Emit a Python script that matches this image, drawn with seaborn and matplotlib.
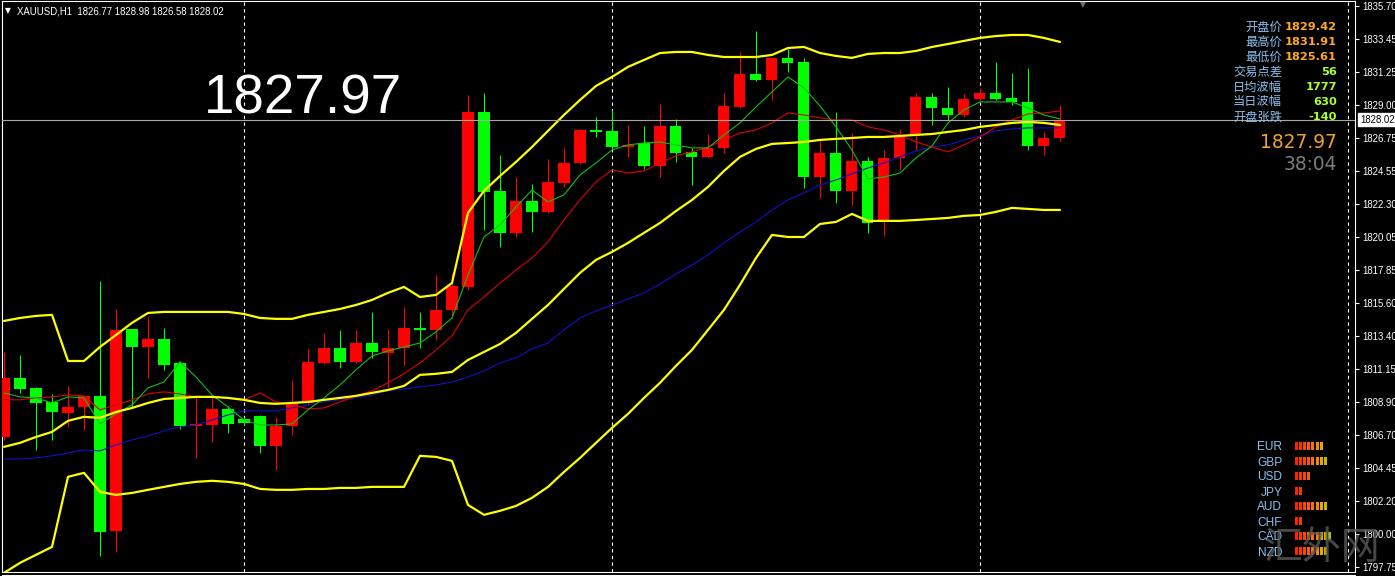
import numpy as np
import pandas as pd
import matplotlib
matplotlib.use("Agg")
import matplotlib.pyplot as plt
import matplotlib.transforms as mtransforms
import seaborn as sns

# XAUUSD H1 candles
opens = [1806.54, 1810.54, 1809.86, 1808.90, 1808.16, 1808.57, 1809.32, 1800.18, 1813.85, 1812.63,
         1813.17, 1811.55, 1807.28, 1807.35, 1808.43, 1807.75, 1807.96, 1805.94, 1807.28, 1808.84,
         1811.55, 1812.56, 1811.62, 1812.90, 1812.22, 1812.56, 1813.92, 1813.78, 1815.13, 1816.68,
         1828.53, 1823.19, 1820.34, 1822.50, 1821.76, 1823.72, 1825.08, 1827.31, 1827.24, 1826.16,
         1826.43, 1824.88, 1827.58, 1825.82, 1825.48, 1826.09, 1828.86, 1831.10, 1830.69, 1832.18,
         1831.91, 1824.13, 1825.75, 1823.18, 1825.21, 1821.09, 1825.41, 1826.90, 1829.54, 1828.80,
         1828.33, 1829.42, 1829.81, 1829.47, 1829.20, 1826.23, 1826.77]
highs = [1812.29, 1812.09, 1809.90, 1809.45, 1809.99, 1809.38, 1817.09, 1815.20, 1813.85, 1814.66,
         1813.92, 1811.69, 1809.38, 1809.18, 1808.63, 1807.89, 1808.00, 1807.89, 1810.40, 1812.50,
         1813.58, 1813.78, 1813.78, 1815.00, 1813.85, 1815.33, 1815.00, 1817.50, 1817.64, 1829.68,
         1829.81, 1825.62, 1824.13, 1823.66, 1825.35, 1826.09, 1827.35, 1828.19, 1828.66, 1827.65,
         1827.58, 1829.07, 1828.05, 1826.09, 1827.04, 1829.81, 1832.58, 1834.01, 1832.25, 1832.79,
         1832.18, 1826.63, 1828.53, 1827.11, 1825.48, 1825.96, 1827.38, 1829.81, 1829.81, 1830.22,
         1829.75, 1830.15, 1831.91, 1831.17, 1831.50, 1827.17, 1828.98]
lows = [1806.33, 1809.52, 1805.66, 1806.33, 1807.21, 1807.01, 1798.48, 1798.75, 1808.57, 1810.54,
        1811.08, 1807.08, 1805.12, 1806.19, 1806.80, 1807.35, 1805.46, 1804.31, 1806.67, 1808.70,
        1811.50, 1811.21, 1811.55, 1811.89, 1809.86, 1811.42, 1812.56, 1813.10, 1814.60, 1816.48,
        1820.54, 1819.39, 1820.07, 1820.41, 1821.69, 1823.45, 1825.00, 1826.83, 1826.00, 1825.48,
        1824.67, 1824.13, 1825.15, 1823.59, 1825.41, 1825.75, 1828.80, 1830.60, 1829.34, 1831.23,
        1823.38, 1822.71, 1822.37, 1822.23, 1820.34, 1820.14, 1824.60, 1825.96, 1827.65, 1827.99,
        1828.19, 1829.30, 1829.34, 1829.00, 1825.96, 1825.61, 1826.58]
closes = [1810.54, 1809.79, 1808.84, 1808.23, 1808.57, 1809.32, 1800.11, 1813.78, 1812.63, 1813.17,
          1811.42, 1807.28, 1807.42, 1808.43, 1807.42, 1807.49, 1805.94, 1807.28, 1808.84, 1811.62,
          1812.56, 1811.62, 1812.90, 1812.29, 1812.56, 1813.92, 1813.78, 1815.13, 1816.75, 1828.53,
          1823.12, 1820.34, 1822.50, 1821.76, 1823.79, 1825.08, 1827.31, 1827.17, 1826.16, 1826.30,
          1824.88, 1827.58, 1825.75, 1825.48, 1826.09, 1828.93, 1831.10, 1830.69, 1832.18, 1831.84,
          1824.13, 1825.75, 1823.18, 1825.21, 1821.02, 1825.41, 1826.90, 1829.54, 1828.80, 1828.33,
          1829.41, 1829.81, 1829.41, 1829.20, 1826.23, 1826.77, 1828.02]

# Bollinger bands (yellow)
bb_upper = [1814.39, 1814.59, 1814.73, 1814.80, 1811.68, 1811.68, 1812.63, 1813.44, 1814.26, 1814.93,
            1815.00, 1815.00, 1815.00, 1815.00, 1815.00, 1814.86, 1814.59, 1814.53,
            1814.53, 1814.80, 1815.00, 1815.20, 1815.47, 1815.81, 1816.29, 1816.69, 1816.01, 1816.15, 1816.96,
            1821.70, 1823.19, 1824.20, 1825.15, 1826.16, 1827.25, 1828.33, 1829.34, 1830.29, 1830.90,
            1831.58, 1832.05, 1832.52, 1832.59,
            1832.59, 1832.39, 1832.25, 1832.25, 1832.25, 1832.39, 1832.86, 1832.93, 1832.52, 1832.32,
            1832.19, 1832.46, 1832.52, 1832.52, 1832.66, 1832.93, 1833.13, 1833.34, 1833.54, 1833.67,
            1833.74, 1833.74, 1833.54, 1833.27]
bb_mid = [1805.87, 1806.14, 1806.54, 1806.88, 1807.63, 1807.90, 1807.83, 1808.23, 1808.50, 1808.84,
          1809.11, 1809.18, 1809.25, 1809.25, 1809.18, 1809.05, 1808.84, 1808.78,
          1808.84, 1808.91, 1809.05, 1809.18, 1809.32, 1809.52, 1809.72, 1809.99, 1810.74, 1810.81,
          1810.94, 1811.75, 1812.29, 1812.83, 1813.58, 1814.53, 1815.47, 1816.56, 1817.64, 1818.52,
          1819.06, 1819.67, 1820.35, 1821.02, 1821.83, 1822.58, 1823.46, 1824.54, 1825.49, 1826.03,
          1826.37, 1826.43, 1826.50, 1826.64, 1826.71, 1826.77, 1826.84, 1826.84, 1826.91, 1826.98,
          1827.04, 1827.18, 1827.31, 1827.52, 1827.65, 1827.79, 1827.86, 1827.79, 1827.65]
bb_lower = [1797.34, 1798.02, 1798.56, 1799.10, 1803.84, 1804.11, 1802.82, 1802.62, 1802.75, 1802.96,
            1803.16, 1803.36, 1803.50, 1803.57, 1803.50, 1803.36, 1803.02, 1802.96,
            1802.96, 1803.02, 1803.02, 1803.09, 1803.09, 1803.16, 1803.16, 1803.16, 1805.26, 1805.19,
            1804.92, 1801.94, 1801.27, 1801.54, 1801.87, 1802.42,
            1803.16, 1804.17, 1805.12, 1806.14, 1807.15, 1808.10, 1809.18, 1810.20, 1811.35, 1812.43,
            1813.78, 1815.14, 1816.83, 1818.65, 1820.21, 1820.07, 1820.07, 1820.95, 1821.09, 1821.63,
            1821.16, 1821.16, 1821.16, 1821.22, 1821.29, 1821.36, 1821.50, 1821.56, 1821.77, 1822.04,
            1821.97, 1821.90, 1821.90]

# moving averages: fast (green), medium (red), slow (blue)
ma_fast = [1809.52, 1809.25, 1809.18, 1808.84, 1809.25, 1809.18, 1807.42, 1808.10, 1808.71, 1809.86,
           1810.26, 1811.62, 1810.60, 1809.38, 1808.57, 1807.69, 1807.35, 1807.35, 1807.42,
           1808.37, 1809.18, 1810.06, 1811.08, 1812.02, 1812.36, 1812.63, 1812.90, 1813.65, 1814.59,
           1817.50, 1820.07, 1820.89, 1822.10, 1823.25, 1822.44, 1822.92, 1824.27, 1825.08, 1825.96,
           1826.30, 1826.43, 1826.50, 1826.30, 1826.10,
           1826.10, 1826.98, 1827.79, 1828.87, 1829.89, 1830.90,
           1830.16, 1828.94, 1827.52, 1825.96, 1824.00, 1824.13, 1824.40, 1825.42, 1826.23, 1827.79,
           1828.67, 1829.21, 1829.21, 1829.21, 1828.80, 1828.33, 1828.06]
ma_mid = [1809.05, 1809.05, 1809.18, 1809.25, 1809.38, 1809.32, 1808.37, 1808.71, 1809.05, 1809.45,
          1809.59, 1809.45, 1809.25, 1809.25, 1809.18, 1809.05, 1809.52, 1808.91,
          1808.71, 1808.44, 1808.50, 1808.91, 1809.32, 1809.66, 1810.20, 1810.81, 1811.55, 1812.43,
          1813.38, 1815.14, 1816.01, 1816.96, 1817.84, 1818.65, 1819.74, 1821.22, 1822.58, 1823.80,
          1824.61, 1824.40, 1824.54, 1825.08, 1825.56, 1825.83, 1826.16, 1826.64, 1827.11, 1827.31,
          1827.79, 1828.46,
          1828.33, 1828.13, 1827.99, 1827.99, 1827.52, 1827.31, 1826.98, 1826.50, 1826.16, 1825.83,
          1826.30, 1826.84, 1827.52, 1827.99, 1828.40, 1828.46, 1828.60]
ma_slow = [1805.05, 1805.05, 1805.12, 1805.26, 1805.46, 1805.66, 1805.60, 1806.00, 1806.34, 1806.61,
           1806.95, 1807.22, 1807.35, 1807.69, 1808.03, 1808.30, 1808.30, 1808.30,
           1808.50, 1808.71, 1808.91, 1809.05, 1809.18, 1809.38, 1809.66, 1809.79, 1809.93, 1810.06,
           1810.26, 1810.60, 1811.01, 1811.55, 1811.89, 1812.50, 1812.90, 1813.78, 1814.59, 1815.07,
           1815.47, 1815.88, 1816.29, 1816.89, 1817.57, 1818.18, 1818.86, 1819.67, 1820.41, 1821.09,
           1821.90, 1822.58, 1823.05, 1823.59, 1823.93, 1824.34, 1824.74, 1825.08, 1825.49, 1825.89,
           1826.16, 1826.30, 1826.64, 1826.91, 1827.25, 1827.38, 1827.45, 1827.45, 1827.45]

price_ticks = [1835.70, 1833.45, 1831.25, 1829.00, 1826.75, 1824.55, 1822.30, 1820.05, 1817.85,
               1815.60, 1813.40, 1811.15, 1808.90, 1806.70, 1804.45, 1802.20, 1800.00, 1797.75]
day_breaks = [15, 38, 61, 84]
last_price = 1828.02
bid_text = "1827.97"
timer_text = "38:04"
header = "XAUUSD,H1  1826.77 1828.98 1826.58 1828.02"

info_labels = ["开盘价", "最高价", "最低价", "交易点差", "日均波幅", "当日波幅", "开盘张跌"]
info_values = ["1829.42", "1831.91", "1825.61", "56", "1777", "630", "-140"]
info_colors = ["#ffa824", "#ffa824", "#ffa824", "#adff2f", "#adff2f", "#adff2f", "#adff2f"]

currencies = ["EUR", "GBP", "USD", "JPY", "AUD", "CHF", "CAD", "NZD"]
strength = [7, 8, 4, 2, 8, 2, 9, 8]
seg_colors = ["#ff2200", "#ff3300", "#ff4400", "#ff5a00", "#ff7000", "#f58a00",
              "#e8a800", "#c8b800", "#a8c020", "#90b030"]

W, H = 1395, 576

sns.set_theme(style="dark", rc={"axes.facecolor": "black", "figure.facecolor": "black",
                                "savefig.facecolor": "black"})
plt.rcParams["font.family"] = ["Liberation Sans", "DejaVu Sans"]

fig = plt.figure(figsize=(W / 100, H / 100), dpi=100)
ax = fig.add_axes([2 / W, 4 / H, 1353 / W, 571 / H])
ax.set_facecolor("black")

df = pd.DataFrame({"open": opens, "high": highs, "low": lows, "close": closes})
df["bar"] = np.arange(len(df))
up = df["close"] >= df["open"]
colors = np.where(up, "#ff0000", "#00ff00")

# day separators
for d in day_breaks:
    ax.axvline(d, color="white", lw=0.8, ls=(0, (3, 3)), zorder=1)

# candles
ax.vlines(df["bar"], df["low"], df["high"], colors=colors, lw=0.8, zorder=2)
body_lo = df[["open", "close"]].min(axis=1)
body_h = (df["close"] - df["open"]).abs().clip(lower=0.08)
ax.bar(df["bar"], body_h, bottom=body_lo, width=0.69, color=colors, linewidth=0, zorder=3)

ind = pd.DataFrame({"bar": df["bar"], "upper": bb_upper, "mid": bb_mid, "lower": bb_lower,
                    "fast": ma_fast, "medium": ma_mid, "slow": ma_slow})
for col, c, lw, z in [("slow", "#1010c8", 0.8, 4), ("medium", "#e00000", 0.8, 4),
                      ("fast", "#10c010", 0.8, 4), ("upper", "#ffff00", 1.6, 5),
                      ("mid", "#ffff00", 1.6, 5), ("lower", "#ffff00", 1.6, 5)]:
    sns.lineplot(data=ind, x="bar", y=col, color=c, lw=lw, ax=ax, zorder=z)

ax.axhline(last_price, color="#a8a8a8", lw=0.8, zorder=6)

ax.set_xlim(-0.125, 84.44)
ax.set_ylim(1797.40, 1836.04)
ax.set_xlabel("")
ax.set_ylabel("")
ax.set_xticks([])
ax.yaxis.tick_right()
ax.set_yticks(price_ticks)
ax.set_yticklabels([f"{p:.2f}" for p in price_ticks])
ax.tick_params(axis="y", colors="white", labelsize=6.9, length=3, width=0.8, pad=2,
               direction="out", right=True, left=False)
ax.grid(False)
for s in ax.spines.values():
    s.set_color("white")
    s.set_linewidth(0.8)
    s.set_visible(True)

# current price box on the axis
tr = mtransforms.blended_transform_factory(ax.transAxes, ax.transData)
ax.text(1.0 + 5 / 1353, last_price, f"{last_price:.2f}", transform=tr, ha="left", va="center",
        fontsize=6.9, color="black", clip_on=False, zorder=10,
        bbox=dict(boxstyle="square,pad=0.2", fc="white", ec="white"))
fig.add_artist(plt.Line2D([2 / W, 1355 / W], [1 - 575 / H, 1 - 575 / H], color="white", lw=0.8))

# header
fig.text(5 / W, 1 - 11 / H, "▼", color="white", fontsize=5.5, va="center",
         family="DejaVu Sans")
fig.text(17 / W, 1 - 11 / H, header, color="white", fontsize=6.9, va="center")
fig.text(1083 / W, 1 - 5 / H, "▼", color="#707070", fontsize=5.5, ha="center", va="center",
         family="DejaVu Sans")

# big price label
fig.text(204 / W, 1 - 113 / H, bid_text, color="white", fontsize=39.5, va="baseline")

# info panel
cjk = ["Noto Sans CJK SC", "DejaVu Sans"]
for k, (lab, val, vc) in enumerate(zip(info_labels, info_values, info_colors)):
    yy = 1 - (27 + 15 * k) / H
    fig.text(1282 / W, yy, lab, color="#8cc0ec", fontsize=8.8, ha="right", va="center",
             family=cjk, zorder=8)
    fig.text(1337 / W, yy, val, color=vc, fontsize=8.2, ha="right", va="center",
             family="DejaVu Sans", fontweight="bold", zorder=8)
fig.text(1337 / W, 1 - 143 / H, bid_text, color="#f0a030", fontsize=13.4, ha="right",
         va="center", family="DejaVu Sans")
fig.text(1337 / W, 1 - 164 / H, timer_text, color="#7c7c7c", fontsize=13.4, ha="right",
         va="center", family="DejaVu Sans")

# watermark
fig.text(1322 / W, 1 - 548 / H, "汇外网", color="#5a5a5a", fontsize=28, ha="center",
         va="center", family=cjk, fontweight="light", alpha=0.8, zorder=1)

# currency strength panel
axs = fig.add_axes([1294 / W, 1 - 558.5 / H, 45 / W, 120 / H])
axs.set_facecolor("none")
for r, n in enumerate(strength):
    for k in range(n):
        axs.bar(k + 0.5, 0.55, bottom=r - 0.275, width=0.72, color=seg_colors[k], linewidth=0)
axs.set_xlim(0, 10.7)
axs.set_ylim(7.5, -0.5)
axs.set_xticks([])
axs.set_yticks(range(len(currencies)))
axs.set_yticklabels(currencies)
axs.tick_params(axis="y", length=0, pad=8.5, labelsize=8.6, labelcolor="#8cc0ec")
axs.grid(False)
for s in axs.spines.values():
    s.set_visible(False)

fig.savefig("out.png", dpi=100, facecolor="black")
